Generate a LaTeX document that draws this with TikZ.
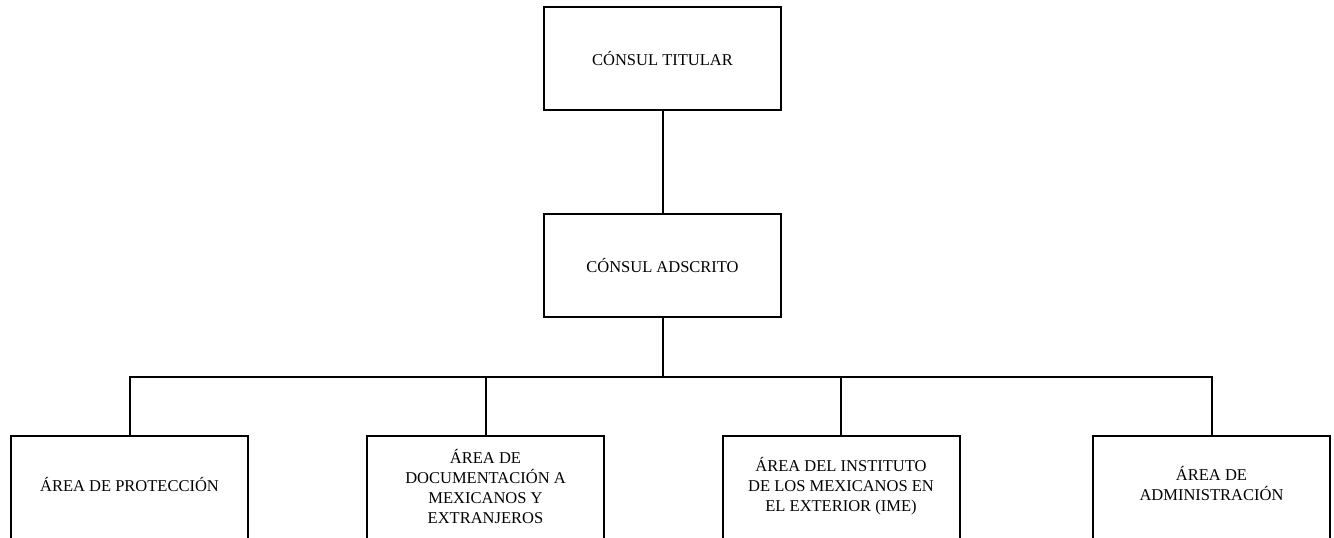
\documentclass[tikz,border=0pt]{standalone}
\usepackage{fontspec}
\setmainfont{Liberation Serif}
\begin{document}
\begin{tikzpicture}[x=1pt,y=-1pt,
  orgbox/.style={draw=black, line width=2pt, fill=white, minimum width=237pt, align=center,
    font=\fontsize{16.5}{20}\selectfont, inner sep=0pt},
  orgtext/.style={align=center, font=\fontsize{16.5}{20}\selectfont, inner sep=0pt},
  link/.style={draw=black, line width=2pt}]
\useasboundingbox (0,0) rectangle (1334,538);
\node[orgbox, minimum height=103pt] (top) at (662.5,58.5) {CÓNSUL TITULAR};
\node[orgbox, minimum height=103pt] (mid) at (662.5,265.5) {CÓNSUL ADSCRITO};
\node[orgbox, minimum height=106pt] (b1) at (129.5,489) {};
\node[orgbox, minimum height=106pt] (b2) at (485.5,489) {};
\node[orgbox, minimum height=106pt] (b3) at (841,489) {};
\node[orgbox, minimum height=106pt] (b4) at (1211.5,489) {};
\node[orgtext] (t1) at (129.5,484) {ÁREA DE PROTECCIÓN};
\node[orgtext] (t2) at (485.5,486) {ÁREA DE\\DOCUMENTACIÓN A\\MEXICANOS Y\\EXTRANJEROS};
\node[orgtext] (t3) at (841,486) {ÁREA DEL INSTITUTO\\DE LOS MEXICANOS EN\\EL EXTERIOR (IME)};
\node[orgtext] (t4) at (1211.5,483) {ÁREA DE\\ADMINISTRACIÓN};
\coordinate (bus) at (662.5,377);
\draw[link] (top.south) -- (mid.north);
\draw[link] (mid.south) -- (bus);
\draw[link] (b1.north) -- (b1.north |- bus) -- (b4.north |- bus) -- (b4.north);
\draw[link] (b2.north |- bus) -- (b2.north);
\draw[link] (b3.north |- bus) -- (b3.north);
\end{tikzpicture}
\end{document}
